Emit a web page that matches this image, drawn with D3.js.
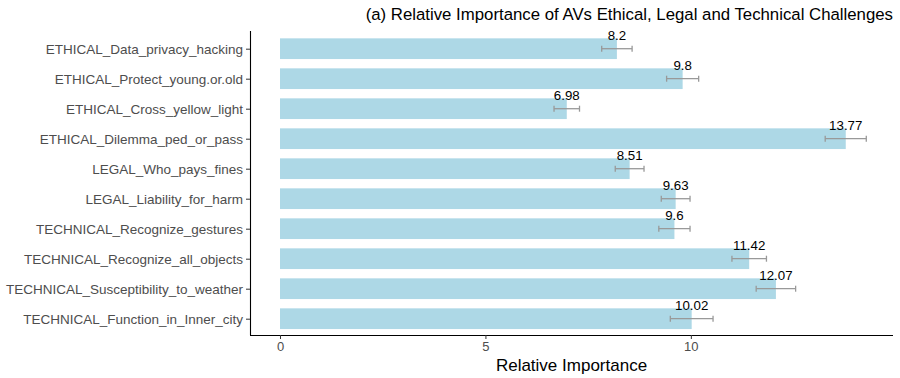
<!DOCTYPE html>
<html><head><meta charset="utf-8">
<script src="https://cdn.jsdelivr.net/npm/d3@7"></script>
<style>body{margin:0;background:#fff}svg{display:block;font-family:"Liberation Sans",Arial,sans-serif}</style>
</head><body><svg id="c" width="900" height="378"></svg>
<script>
const categories = [
  "ETHICAL_Data_privacy_hacking",
  "ETHICAL_Protect_young.or.old",
  "ETHICAL_Cross_yellow_light",
  "ETHICAL_Dilemma_ped_or_pass",
  "LEGAL_Who_pays_fines",
  "LEGAL_Liability_for_harm",
  "TECHNICAL_Recognize_gestures",
  "TECHNICAL_Recognize_all_objects",
  "TECHNICAL_Susceptibility_to_weather",
  "TECHNICAL_Function_in_Inner_city"
];
const values = [8.2, 9.8, 6.98, 13.77, 8.51, 9.63, 9.6, 11.42, 12.07, 10.02];
const errors = [0.37, 0.39, 0.31, 0.5, 0.35, 0.35, 0.38, 0.42, 0.48, 0.52];
const xTicks = [0, 5, 10];
const titleText = "(a) Relative Importance of AVs Ethical, Legal and Technical Challenges";
const xTitle = "Relative Importance";

const svg = d3.select("#c");
const panel = {left: 250, right: 893, top: 31, bottom: 335};
const x = d3.scaleLinear().domain([-0.73, 14.92]).range([panel.left, panel.right]);
const y = d3.scalePoint().domain(categories).range([48.7, 318.7]);
const barH = y.step() * 0.69;

// bars
svg.append("g").selectAll("rect").data(categories).join("rect")
  .attr("x", x(0))
  .attr("y", d => y(d) - barH / 2)
  .attr("width", (d, i) => x(values[i]) - x(0))
  .attr("height", barH)
  .attr("fill", "#ADD8E6");

// error bars
const eb = svg.append("g").attr("stroke", "#999999").attr("stroke-width", 1.3).attr("fill", "none");
categories.forEach((c, i) => {
  const cy = y(c), lo = x(values[i] - errors[i]), hi = x(values[i] + errors[i]);
  eb.append("line").attr("x1", lo).attr("x2", hi).attr("y1", cy).attr("y2", cy);
  eb.append("line").attr("x1", lo).attr("x2", lo).attr("y1", cy - 3).attr("y2", cy + 3);
  eb.append("line").attr("x1", hi).attr("x2", hi).attr("y1", cy - 3).attr("y2", cy + 3);
});

// value labels
svg.append("g").selectAll("text").data(categories).join("text")
  .attr("x", (d, i) => x(values[i]))
  .attr("y", d => y(d) - 8.5)
  .attr("text-anchor", "middle")
  .attr("font-size", 13.3)
  .attr("fill", "#000")
  .text((d, i) => values[i]);

// y axis
const yAxis = svg.append("g").attr("transform", `translate(${panel.left},0)`)
  .call(d3.axisLeft(y).tickSize(4).tickPadding(3));
yAxis.select(".domain").attr("d", `M0.5,${panel.top}V${panel.bottom}`).attr("stroke", "#000").attr("stroke-width", 1.1);
yAxis.selectAll(".tick line").attr("stroke", "#333");
yAxis.selectAll(".tick text").attr("font-size", 13.5).attr("fill", "#4D4D4D").attr("font-family", "Liberation Sans, Arial, sans-serif");

// x axis
const xAxis = svg.append("g").attr("transform", `translate(0,${panel.bottom})`)
  .call(d3.axisBottom(x).tickValues(xTicks).tickSize(4).tickPadding(3));
xAxis.select(".domain").attr("d", `M${panel.left},0.5H${panel.right}`).attr("stroke", "#000").attr("stroke-width", 1.1);
xAxis.selectAll(".tick line").attr("stroke", "#333");
xAxis.selectAll(".tick text").attr("font-size", 13).attr("fill", "#4D4D4D").attr("font-family", "Liberation Sans, Arial, sans-serif");

// titles
svg.append("text").attr("x", (panel.left + panel.right) / 2).attr("y", 371)
  .attr("text-anchor", "middle").attr("font-size", 17).attr("fill", "#000").text(xTitle);
svg.append("text").attr("x", 893).attr("y", 20)
  .attr("text-anchor", "end").attr("font-size", 16.8).attr("fill", "#000").text(titleText);
</script></body></html>
